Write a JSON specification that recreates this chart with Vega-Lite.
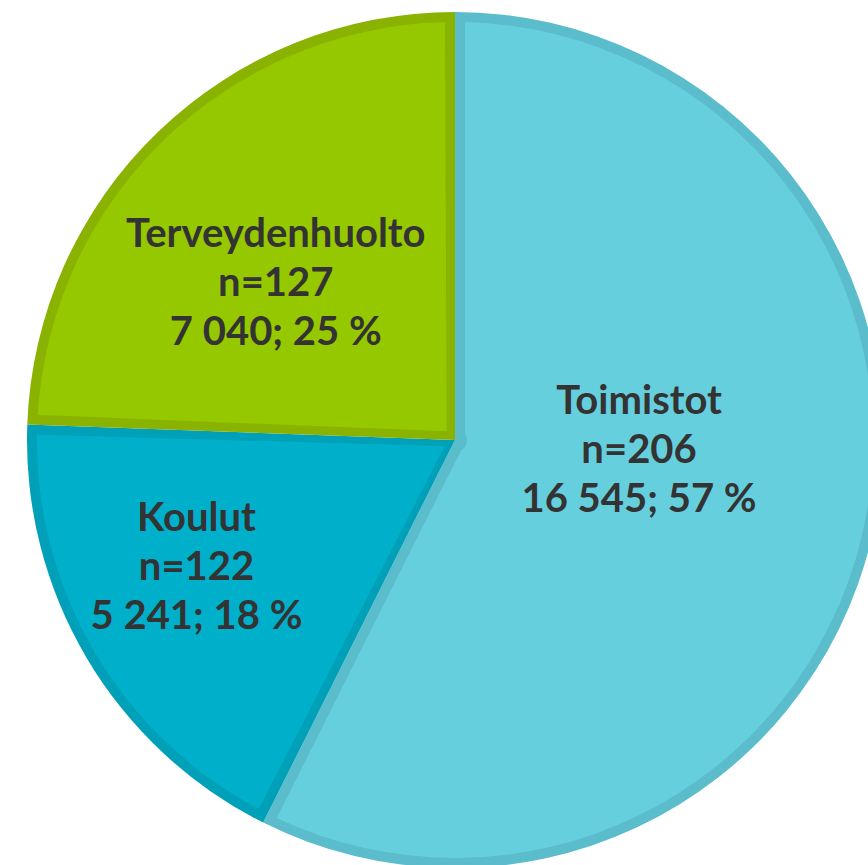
{
  "$schema": "https://vega.github.io/schema/vega-lite/v6.json",
  "width": 910,
  "height": 880,
  "padding": 0,
  "autosize": {"type": "none"},
  "background": "white",
  "data": {"values": [
    {"cat": "Toimistot", "ord": 1, "value": 16545, "label": ["Toimistot", "n=206", "16 545; 57 %"]},
    {"cat": "Koulut", "ord": 2, "value": 5241, "label": ["Koulut", "n=122", "5 241; 18 %"]},
    {"cat": "Terveydenhuolto", "ord": 3, "value": 7040, "label": ["Terveydenhuolto", "n=127", "7 040; 25 %"]}
  ]},
  "encoding": {
    "theta": {"field": "value", "type": "quantitative", "stack": true},
    "order": {"field": "ord", "type": "quantitative", "sort": "ascending"}
  },
  "layer": [
    {
      "mark": {"type": "arc", "radius": 428},
      "encoding": {
        "color": {"field": "cat", "type": "nominal", "legend": null,
          "scale": {"domain": ["Toimistot", "Koulut", "Terveydenhuolto"], "range": ["#5BBCCB", "#00A0B8", "#89B300"]}}
      }
    },
    {
      "mark": {"type": "arc", "radius": 418, "innerRadius": 12, "padAngle": 0.048},
      "encoding": {
        "fill": {"field": "cat", "type": "nominal", "legend": null,
          "scale": {"domain": ["Toimistot", "Koulut", "Terveydenhuolto"], "range": ["#66CFDD", "#00B0CB", "#96C800"]}}
      }
    },
    {
      "mark": {"type": "text", "radius": 184, "dx": 5, "dy": -80, "font": "Lato", "fontWeight": "bold", "fontSize": 40, "lineHeight": 49, "fill": "#333333", "align": "center", "baseline": "middle"},
      "encoding": {"text": {"condition": {"test": "datum.cat === 'Toimistot'", "field": "label", "type": "nominal"}, "value": ""}}
    },
    {
      "mark": {"type": "text", "radius": 290, "dx": -9, "dy": -69, "font": "Lato", "fontWeight": "bold", "fontSize": 40, "lineHeight": 49, "fill": "#333333", "align": "center", "baseline": "middle"},
      "encoding": {"text": {"condition": {"test": "datum.cat === 'Koulut'", "field": "label", "type": "nominal"}, "value": ""}}
    },
    {
      "mark": {"type": "text", "radius": 238, "dx": -14, "dy": -34, "font": "Lato", "fontWeight": "bold", "fontSize": 40, "lineHeight": 49, "fill": "#333333", "align": "center", "baseline": "middle"},
      "encoding": {"text": {"condition": {"test": "datum.cat === 'Terveydenhuolto'", "field": "label", "type": "nominal"}, "value": ""}}
    }
  ],
  "resolve": {"scale": {"color": "independent", "fill": "independent"}}
}
